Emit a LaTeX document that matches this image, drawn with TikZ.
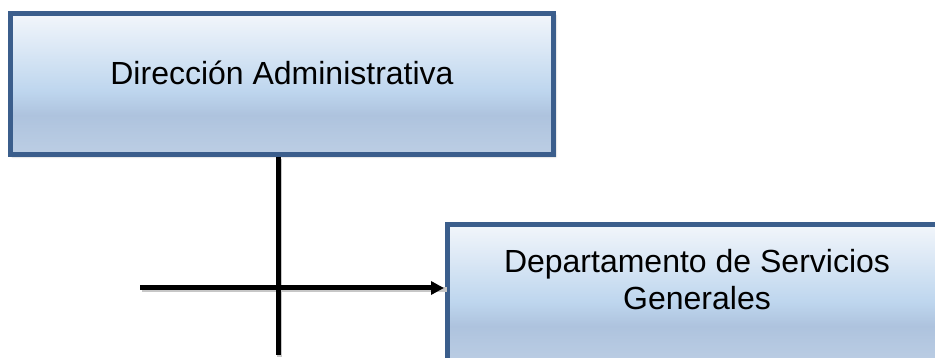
\documentclass[tikz,border=0pt]{standalone}
\usepackage{fontspec}
\setmainfont{Liberation Sans}
\usepackage{tikz}
\usetikzlibrary{arrows.meta,positioning,shadows.blur}
\definecolor{orgBorder}{HTML}{3B5E8C}
\definecolor{orgTop}{HTML}{F2F6FB}
\definecolor{orgMid}{HTML}{BED6EE}
\definecolor{orgBand}{HTML}{AEC3DE}
\definecolor{orgBot}{HTML}{BCCEE4}
\definecolor{blkInk}{HTML}{000000}
\pgfdeclareverticalshading{orgfill}{100bp}{%
  color(0bp)=(orgBot); color(25bp)=(orgBot); color(39bp)=(orgBand);
  color(47.5bp)=(orgMid); color(75bp)=(orgTop); color(100bp)=(orgTop)}
\tikzset{
  orgbox/.style  = {rectangle, draw=orgBorder, line width=5pt, shading=orgfill,
                    inner sep=0pt,
                    blur shadow={shadow xshift=2pt, shadow yshift=-2pt,
                                 shadow blur steps=6, shadow opacity=35}},
  orgtxt/.style  = {font=\fontsize{32}{37}\selectfont, text=blkInk,
                    align=center, inner sep=0pt},
  link/.style    = {draw=blkInk, line width=5pt},
  linkarr/.style = {link, -{Triangle[length=13pt, width=13pt]}},
  lshadow/.style = {draw=black!22, line width=5pt,
                    transform canvas={shift={(1.5pt,-2pt)}}},
}

\begin{document}
\begin{tikzpicture}[x=1pt, y=-1pt]
    \useasboundingbox (0,0) rectangle (935,358);
    % boxes
    \node[orgbox, minimum width=543pt, minimum height=141pt] (dir) at (282,84) {};
    \node[orgbox, minimum width=499pt, minimum height=141pt] (dep) at (697,295) {};
    \node[orgtxt] (dirtxt) at (282,73) {Dirección Administrativa};
    \node[orgtxt] (deptxt) at (697,280) {Departamento de Servicios\\Generales};
    % connectors
    \coordinate (vtop) at ([xshift=-4pt]dir.south);
    \coordinate (vend) at (278,355);
    \coordinate (hstart) at (140,288);
    \path[lshadow] (vtop) -- (vend);
    \path[lshadow] (hstart) -- (hstart -| dep.west);
    \draw[link] (vtop) -- (vend);
    \draw[linkarr] (hstart) -- ([xshift=-1pt]hstart -| dep.west);
  \end{tikzpicture}
\end{document}
